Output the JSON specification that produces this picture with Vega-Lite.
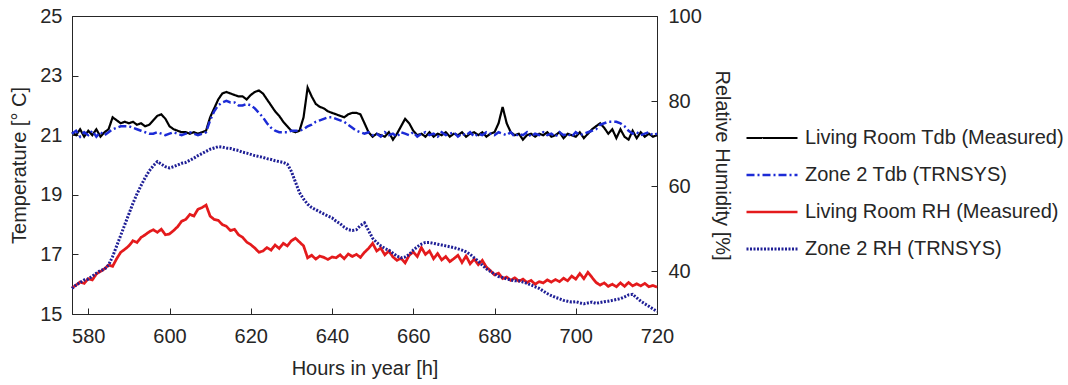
{
  "$schema": "https://vega.github.io/schema/vega-lite/v6.json",
  "width": 585,
  "height": 298,
  "autosize": "none",
  "padding": {"left": 72, "top": 16, "right": 411, "bottom": 71},
  "config": {
    "font": "Liberation Sans",
    "view": {"stroke": "#262626", "strokeWidth": 1},
    "axis": {
      "labelFontSize": 20,
      "titleFontSize": 20,
      "titleFontWeight": "normal",
      "labelColor": "#262626",
      "titleColor": "#262626",
      "domainColor": "#262626",
      "tickColor": "#262626",
      "grid": false,
      "tickSize": -6,
      "labelPadding": 16,
      "titlePadding": 10,
      "labelFlush": false,
      "labelOverlap": false
    },
    "legend": {
      "labelLimit": 0
    }
  },
  "data": {"values": [
    {"h":576,"tm":21.1,"ts":21.05,"rm":36.1,"rs":36.0},
    {"h":577,"tm":21.0,"ts":21.15,"rm":36.8,"rs":36.8},
    {"h":578,"tm":21.2,"ts":20.95,"rm":37.5,"rs":37.4},
    {"h":579,"tm":20.95,"ts":21.1,"rm":37.2,"rs":38.0},
    {"h":580,"tm":21.15,"ts":21.0,"rm":38.3,"rs":38.2},
    {"h":581,"tm":21.0,"ts":21.15,"rm":38.0,"rs":38.9},
    {"h":582,"tm":21.2,"ts":20.95,"rm":39.4,"rs":39.6},
    {"h":583,"tm":20.95,"ts":21.1,"rm":40.0,"rs":40.2},
    {"h":584,"tm":21.1,"ts":21.0,"rm":40.6,"rs":40.5},
    {"h":585,"tm":21.2,"ts":21.1,"rm":41.5,"rs":41.5},
    {"h":586,"tm":21.6,"ts":21.2,"rm":41.2,"rs":43.5},
    {"h":587,"tm":21.5,"ts":21.25,"rm":43.0,"rs":46.0},
    {"h":588,"tm":21.4,"ts":21.3,"rm":44.5,"rs":48.5},
    {"h":589,"tm":21.45,"ts":21.3,"rm":45.2,"rs":51.0},
    {"h":590,"tm":21.4,"ts":21.3,"rm":46.0,"rs":53.5},
    {"h":591,"tm":21.45,"ts":21.25,"rm":47.2,"rs":56.0},
    {"h":592,"tm":21.35,"ts":21.2,"rm":46.8,"rs":58.2},
    {"h":593,"tm":21.4,"ts":21.15,"rm":48.0,"rs":60.2},
    {"h":594,"tm":21.3,"ts":21.1,"rm":48.6,"rs":62.0},
    {"h":595,"tm":21.35,"ts":21.05,"rm":49.3,"rs":63.6},
    {"h":596,"tm":21.5,"ts":21.05,"rm":49.8,"rs":64.8},
    {"h":597,"tm":21.65,"ts":21.1,"rm":49.2,"rs":65.8},
    {"h":598,"tm":21.7,"ts":21.05,"rm":49.9,"rs":65.2},
    {"h":599,"tm":21.55,"ts":21.0,"rm":48.6,"rs":64.6},
    {"h":600,"tm":21.3,"ts":21.05,"rm":48.8,"rs":64.3},
    {"h":601,"tm":21.2,"ts":21.1,"rm":49.6,"rs":64.6},
    {"h":602,"tm":21.15,"ts":21.05,"rm":50.5,"rs":65.0},
    {"h":603,"tm":21.1,"ts":21.0,"rm":51.8,"rs":65.4},
    {"h":604,"tm":21.1,"ts":21.05,"rm":52.2,"rs":65.6},
    {"h":605,"tm":21.05,"ts":21.1,"rm":53.4,"rs":66.1},
    {"h":606,"tm":21.1,"ts":21.05,"rm":53.0,"rs":66.6},
    {"h":607,"tm":21.05,"ts":21.0,"rm":54.6,"rs":67.2},
    {"h":608,"tm":21.1,"ts":21.05,"rm":55.0,"rs":67.7},
    {"h":609,"tm":21.15,"ts":21.1,"rm":55.6,"rs":68.2},
    {"h":610,"tm":21.6,"ts":21.5,"rm":53.0,"rs":68.7},
    {"h":611,"tm":21.9,"ts":21.8,"rm":52.2,"rs":69.0},
    {"h":612,"tm":22.2,"ts":22.0,"rm":52.0,"rs":69.3},
    {"h":613,"tm":22.4,"ts":22.1,"rm":51.0,"rs":69.2},
    {"h":614,"tm":22.45,"ts":22.15,"rm":50.6,"rs":69.0},
    {"h":615,"tm":22.4,"ts":22.1,"rm":49.6,"rs":68.9},
    {"h":616,"tm":22.35,"ts":22.1,"rm":49.9,"rs":68.6},
    {"h":617,"tm":22.3,"ts":22.0,"rm":48.6,"rs":68.4},
    {"h":618,"tm":22.3,"ts":22.0,"rm":48.0,"rs":68.0},
    {"h":619,"tm":22.2,"ts":22.05,"rm":46.9,"rs":67.8},
    {"h":620,"tm":22.35,"ts":22.0,"rm":46.3,"rs":67.5},
    {"h":621,"tm":22.45,"ts":21.9,"rm":45.5,"rs":67.2},
    {"h":622,"tm":22.5,"ts":21.75,"rm":44.5,"rs":67.0},
    {"h":623,"tm":22.4,"ts":21.6,"rm":44.8,"rs":66.8},
    {"h":624,"tm":22.2,"ts":21.4,"rm":45.6,"rs":66.5},
    {"h":625,"tm":22.0,"ts":21.25,"rm":45.0,"rs":66.3},
    {"h":626,"tm":21.8,"ts":21.15,"rm":46.2,"rs":66.0},
    {"h":627,"tm":21.65,"ts":21.1,"rm":45.4,"rs":65.8},
    {"h":628,"tm":21.45,"ts":21.1,"rm":46.6,"rs":65.6},
    {"h":629,"tm":21.3,"ts":21.1,"rm":46.0,"rs":65.2},
    {"h":630,"tm":21.15,"ts":21.15,"rm":47.2,"rs":63.5},
    {"h":631,"tm":21.1,"ts":21.15,"rm":47.8,"rs":61.0},
    {"h":632,"tm":21.15,"ts":21.15,"rm":46.9,"rs":58.5},
    {"h":633,"tm":21.6,"ts":21.2,"rm":46.0,"rs":57.0},
    {"h":634,"tm":22.6,"ts":21.3,"rm":43.2,"rs":55.8},
    {"h":635,"tm":22.3,"ts":21.35,"rm":43.8,"rs":55.0},
    {"h":636,"tm":22.05,"ts":21.45,"rm":42.9,"rs":54.5},
    {"h":637,"tm":21.95,"ts":21.5,"rm":43.6,"rs":54.0},
    {"h":638,"tm":21.9,"ts":21.55,"rm":43.3,"rs":53.5},
    {"h":639,"tm":21.8,"ts":21.6,"rm":42.8,"rs":53.0},
    {"h":640,"tm":21.75,"ts":21.6,"rm":43.4,"rs":52.6},
    {"h":641,"tm":21.7,"ts":21.55,"rm":43.2,"rs":51.8},
    {"h":642,"tm":21.65,"ts":21.5,"rm":43.9,"rs":51.2},
    {"h":643,"tm":21.6,"ts":21.45,"rm":43.0,"rs":50.4},
    {"h":644,"tm":21.7,"ts":21.35,"rm":44.1,"rs":49.8},
    {"h":645,"tm":21.75,"ts":21.25,"rm":43.5,"rs":49.6},
    {"h":646,"tm":21.75,"ts":21.15,"rm":44.0,"rs":49.8},
    {"h":647,"tm":21.7,"ts":21.1,"rm":43.3,"rs":50.8},
    {"h":648,"tm":21.4,"ts":21.05,"rm":44.5,"rs":51.4},
    {"h":649,"tm":21.1,"ts":21.1,"rm":45.4,"rs":49.6},
    {"h":650,"tm":20.95,"ts":21.0,"rm":46.6,"rs":47.8},
    {"h":651,"tm":21.05,"ts":21.05,"rm":44.8,"rs":46.8},
    {"h":652,"tm":21.0,"ts":20.95,"rm":45.5,"rs":46.0},
    {"h":653,"tm":20.95,"ts":21.1,"rm":43.9,"rs":45.4},
    {"h":654,"tm":21.1,"ts":21.0,"rm":44.8,"rs":45.0},
    {"h":655,"tm":20.85,"ts":21.05,"rm":43.4,"rs":44.3},
    {"h":656,"tm":21.05,"ts":20.95,"rm":42.6,"rs":43.6},
    {"h":657,"tm":21.3,"ts":21.1,"rm":43.1,"rs":43.2},
    {"h":658,"tm":21.55,"ts":21.05,"rm":42.0,"rs":43.4},
    {"h":659,"tm":21.4,"ts":21.0,"rm":43.8,"rs":44.0},
    {"h":660,"tm":21.15,"ts":21.1,"rm":44.6,"rs":45.0},
    {"h":661,"tm":21.0,"ts":20.95,"rm":43.5,"rs":45.8},
    {"h":662,"tm":21.05,"ts":21.05,"rm":45.6,"rs":46.4},
    {"h":663,"tm":20.95,"ts":21.1,"rm":44.0,"rs":46.8},
    {"h":664,"tm":21.1,"ts":21.0,"rm":44.8,"rs":46.8},
    {"h":665,"tm":20.95,"ts":21.05,"rm":43.0,"rs":46.6},
    {"h":666,"tm":21.05,"ts":20.95,"rm":44.2,"rs":46.4},
    {"h":667,"tm":21.0,"ts":21.1,"rm":42.7,"rs":46.2},
    {"h":668,"tm":21.1,"ts":21.0,"rm":43.5,"rs":46.0},
    {"h":669,"tm":20.95,"ts":21.05,"rm":42.3,"rs":45.8},
    {"h":670,"tm":21.05,"ts":21.1,"rm":43.0,"rs":45.6},
    {"h":671,"tm":21.0,"ts":20.95,"rm":43.8,"rs":45.3},
    {"h":672,"tm":21.1,"ts":21.05,"rm":42.1,"rs":45.0},
    {"h":673,"tm":20.95,"ts":21.0,"rm":43.6,"rs":44.6},
    {"h":674,"tm":21.05,"ts":21.1,"rm":41.8,"rs":44.0},
    {"h":675,"tm":21.1,"ts":20.95,"rm":42.9,"rs":43.2},
    {"h":676,"tm":21.0,"ts":21.05,"rm":41.6,"rs":42.4},
    {"h":677,"tm":21.1,"ts":21.0,"rm":42.6,"rs":41.5},
    {"h":678,"tm":20.95,"ts":21.1,"rm":41.0,"rs":40.6},
    {"h":679,"tm":21.05,"ts":21.05,"rm":40.2,"rs":40.0},
    {"h":680,"tm":21.1,"ts":21.0,"rm":39.2,"rs":39.4},
    {"h":681,"tm":21.4,"ts":21.1,"rm":39.6,"rs":38.8},
    {"h":682,"tm":21.95,"ts":21.05,"rm":38.3,"rs":38.6},
    {"h":683,"tm":21.4,"ts":21.0,"rm":38.7,"rs":38.2},
    {"h":684,"tm":21.1,"ts":21.1,"rm":37.9,"rs":38.0},
    {"h":685,"tm":21.0,"ts":20.95,"rm":38.5,"rs":37.8},
    {"h":686,"tm":21.05,"ts":21.05,"rm":37.7,"rs":37.8},
    {"h":687,"tm":20.85,"ts":21.0,"rm":38.2,"rs":37.5},
    {"h":688,"tm":21.0,"ts":21.1,"rm":37.4,"rs":37.2},
    {"h":689,"tm":21.05,"ts":20.95,"rm":37.9,"rs":36.8},
    {"h":690,"tm":20.95,"ts":21.05,"rm":37.0,"rs":36.4},
    {"h":691,"tm":21.05,"ts":21.0,"rm":37.6,"rs":36.0},
    {"h":692,"tm":21.0,"ts":21.1,"rm":37.3,"rs":35.4},
    {"h":693,"tm":21.1,"ts":21.0,"rm":38.0,"rs":34.8},
    {"h":694,"tm":20.95,"ts":21.05,"rm":37.5,"rs":34.3},
    {"h":695,"tm":21.0,"ts":20.95,"rm":38.1,"rs":33.9},
    {"h":696,"tm":21.1,"ts":21.1,"rm":37.6,"rs":33.6},
    {"h":697,"tm":20.9,"ts":21.0,"rm":38.4,"rs":33.2},
    {"h":698,"tm":21.05,"ts":21.05,"rm":37.8,"rs":33.0},
    {"h":699,"tm":21.0,"ts":20.95,"rm":38.9,"rs":32.8},
    {"h":700,"tm":20.95,"ts":21.1,"rm":38.2,"rs":32.9},
    {"h":701,"tm":21.1,"ts":21.0,"rm":39.5,"rs":32.6},
    {"h":702,"tm":20.9,"ts":21.05,"rm":38.3,"rs":32.4},
    {"h":703,"tm":21.05,"ts":21.1,"rm":39.8,"rs":32.6},
    {"h":704,"tm":21.2,"ts":21.15,"rm":38.6,"rs":32.8},
    {"h":705,"tm":21.3,"ts":21.2,"rm":37.4,"rs":32.5},
    {"h":706,"tm":21.4,"ts":21.35,"rm":36.8,"rs":32.7},
    {"h":707,"tm":21.25,"ts":21.4,"rm":37.3,"rs":32.9},
    {"h":708,"tm":21.05,"ts":21.45,"rm":36.5,"rs":33.0},
    {"h":709,"tm":21.2,"ts":21.45,"rm":37.0,"rs":33.2},
    {"h":710,"tm":20.9,"ts":21.45,"rm":36.4,"rs":33.4},
    {"h":711,"tm":21.2,"ts":21.4,"rm":37.3,"rs":33.6},
    {"h":712,"tm":20.95,"ts":21.3,"rm":36.5,"rs":34.0},
    {"h":713,"tm":20.85,"ts":21.15,"rm":37.4,"rs":34.5},
    {"h":714,"tm":21.15,"ts":21.05,"rm":36.6,"rs":34.6},
    {"h":715,"tm":20.9,"ts":21.1,"rm":37.1,"rs":33.8},
    {"h":716,"tm":21.1,"ts":21.0,"rm":36.6,"rs":33.0},
    {"h":717,"tm":20.95,"ts":21.05,"rm":37.2,"rs":32.4},
    {"h":718,"tm":21.05,"ts":21.1,"rm":36.4,"rs":31.8},
    {"h":719,"tm":20.95,"ts":21.0,"rm":36.7,"rs":31.2},
    {"h":720,"tm":21.0,"ts":21.05,"rm":36.3,"rs":30.6}
  ]},
  "encoding": {
    "x": {"field": "h", "type": "quantitative", "scale": {"domain": [576, 720], "nice": false},
          "axis": {"title": "Hours in year [h]", "values": [580, 600, 620, 640, 660, 680, 700, 720], "orient": "bottom", "labelPadding": 18, "titlePadding": 12}}
  },
  "layer": [
    {
      "transform": [{"fold": ["tm", "ts"], "as": ["series", "value"]}],
      "mark": {"type": "line"},
      "encoding": {
        "y": {"field": "value", "type": "quantitative", "scale": {"domain": [15, 25], "nice": false},
              "axis": {"title": "Temperature [° C]", "values": [15, 17, 19, 21, 23, 25], "orient": "left"}},
        "color": {"field": "series", "type": "nominal",
                  "scale": {"domain": ["tm", "ts", "rm", "rs"], "range": ["#000000", "#1c2bd6", "#e41a1c", "#1f1f96"]},
                  "legend": {"title": null, "orient": "none", "legendX": 673, "legendY": 95,
                             "symbolType": "stroke", "symbolSize": 2600, "labelFontSize": 20, "labelColor": "#262626",
                             "labelOffset": 6, "rowPadding": -5, "labelLimit": 0,
                             "labelExpr": "{'tm':'Living Room Tdb (Measured)','ts':'Zone 2 Tdb (TRNSYS)','rm':'Living Room RH (Measured)','rs':'Zone 2 RH (TRNSYS)'}[datum.label]"}},
        "strokeDash": {"field": "series", "type": "nominal",
                       "scale": {"domain": ["tm", "ts", "rm", "rs"], "range": [[1, 0], [8, 3, 2, 3], [1, 0], [2, 1.5]]},
                       "legend": {"title": null, "orient": "none", "legendX": 673, "legendY": 95,
                             "symbolType": "stroke", "symbolSize": 2600, "labelFontSize": 20, "labelColor": "#262626",
                             "labelOffset": 6, "rowPadding": -5, "labelLimit": 0,
                             "labelExpr": "{'tm':'Living Room Tdb (Measured)','ts':'Zone 2 Tdb (TRNSYS)','rm':'Living Room RH (Measured)','rs':'Zone 2 RH (TRNSYS)'}[datum.label]"}},
        "strokeWidth": {"field": "series", "type": "nominal",
                        "scale": {"domain": ["tm", "ts", "rm", "rs"], "range": [2.2, 3, 1.5, 2.5]},
                        "legend": {"title": null, "orient": "none", "legendX": 673, "legendY": 95,
                             "symbolType": "stroke", "symbolSize": 2600, "labelFontSize": 20, "labelColor": "#262626",
                             "labelOffset": 6, "rowPadding": -5, "labelLimit": 0,
                             "labelExpr": "{'tm':'Living Room Tdb (Measured)','ts':'Zone 2 Tdb (TRNSYS)','rm':'Living Room RH (Measured)','rs':'Zone 2 RH (TRNSYS)'}[datum.label]"}}
      }
    },
    {
      "transform": [{"fold": ["rm", "rs"], "as": ["series", "value"]}],
      "mark": {"type": "line"},
      "encoding": {
        "y": {"field": "value", "type": "quantitative", "scale": {"domain": [30, 100], "nice": false},
              "axis": {"title": "Relative Humidity [%]", "values": [40, 60, 80, 100], "orient": "right", "labelPadding": 17}},
        "color": {"field": "series", "type": "nominal"},
        "strokeDash": {"field": "series", "type": "nominal"},
        "strokeWidth": {"field": "series", "type": "nominal"}
      }
    }
  ],
  "resolve": {"scale": {"y": "independent"}}
}
